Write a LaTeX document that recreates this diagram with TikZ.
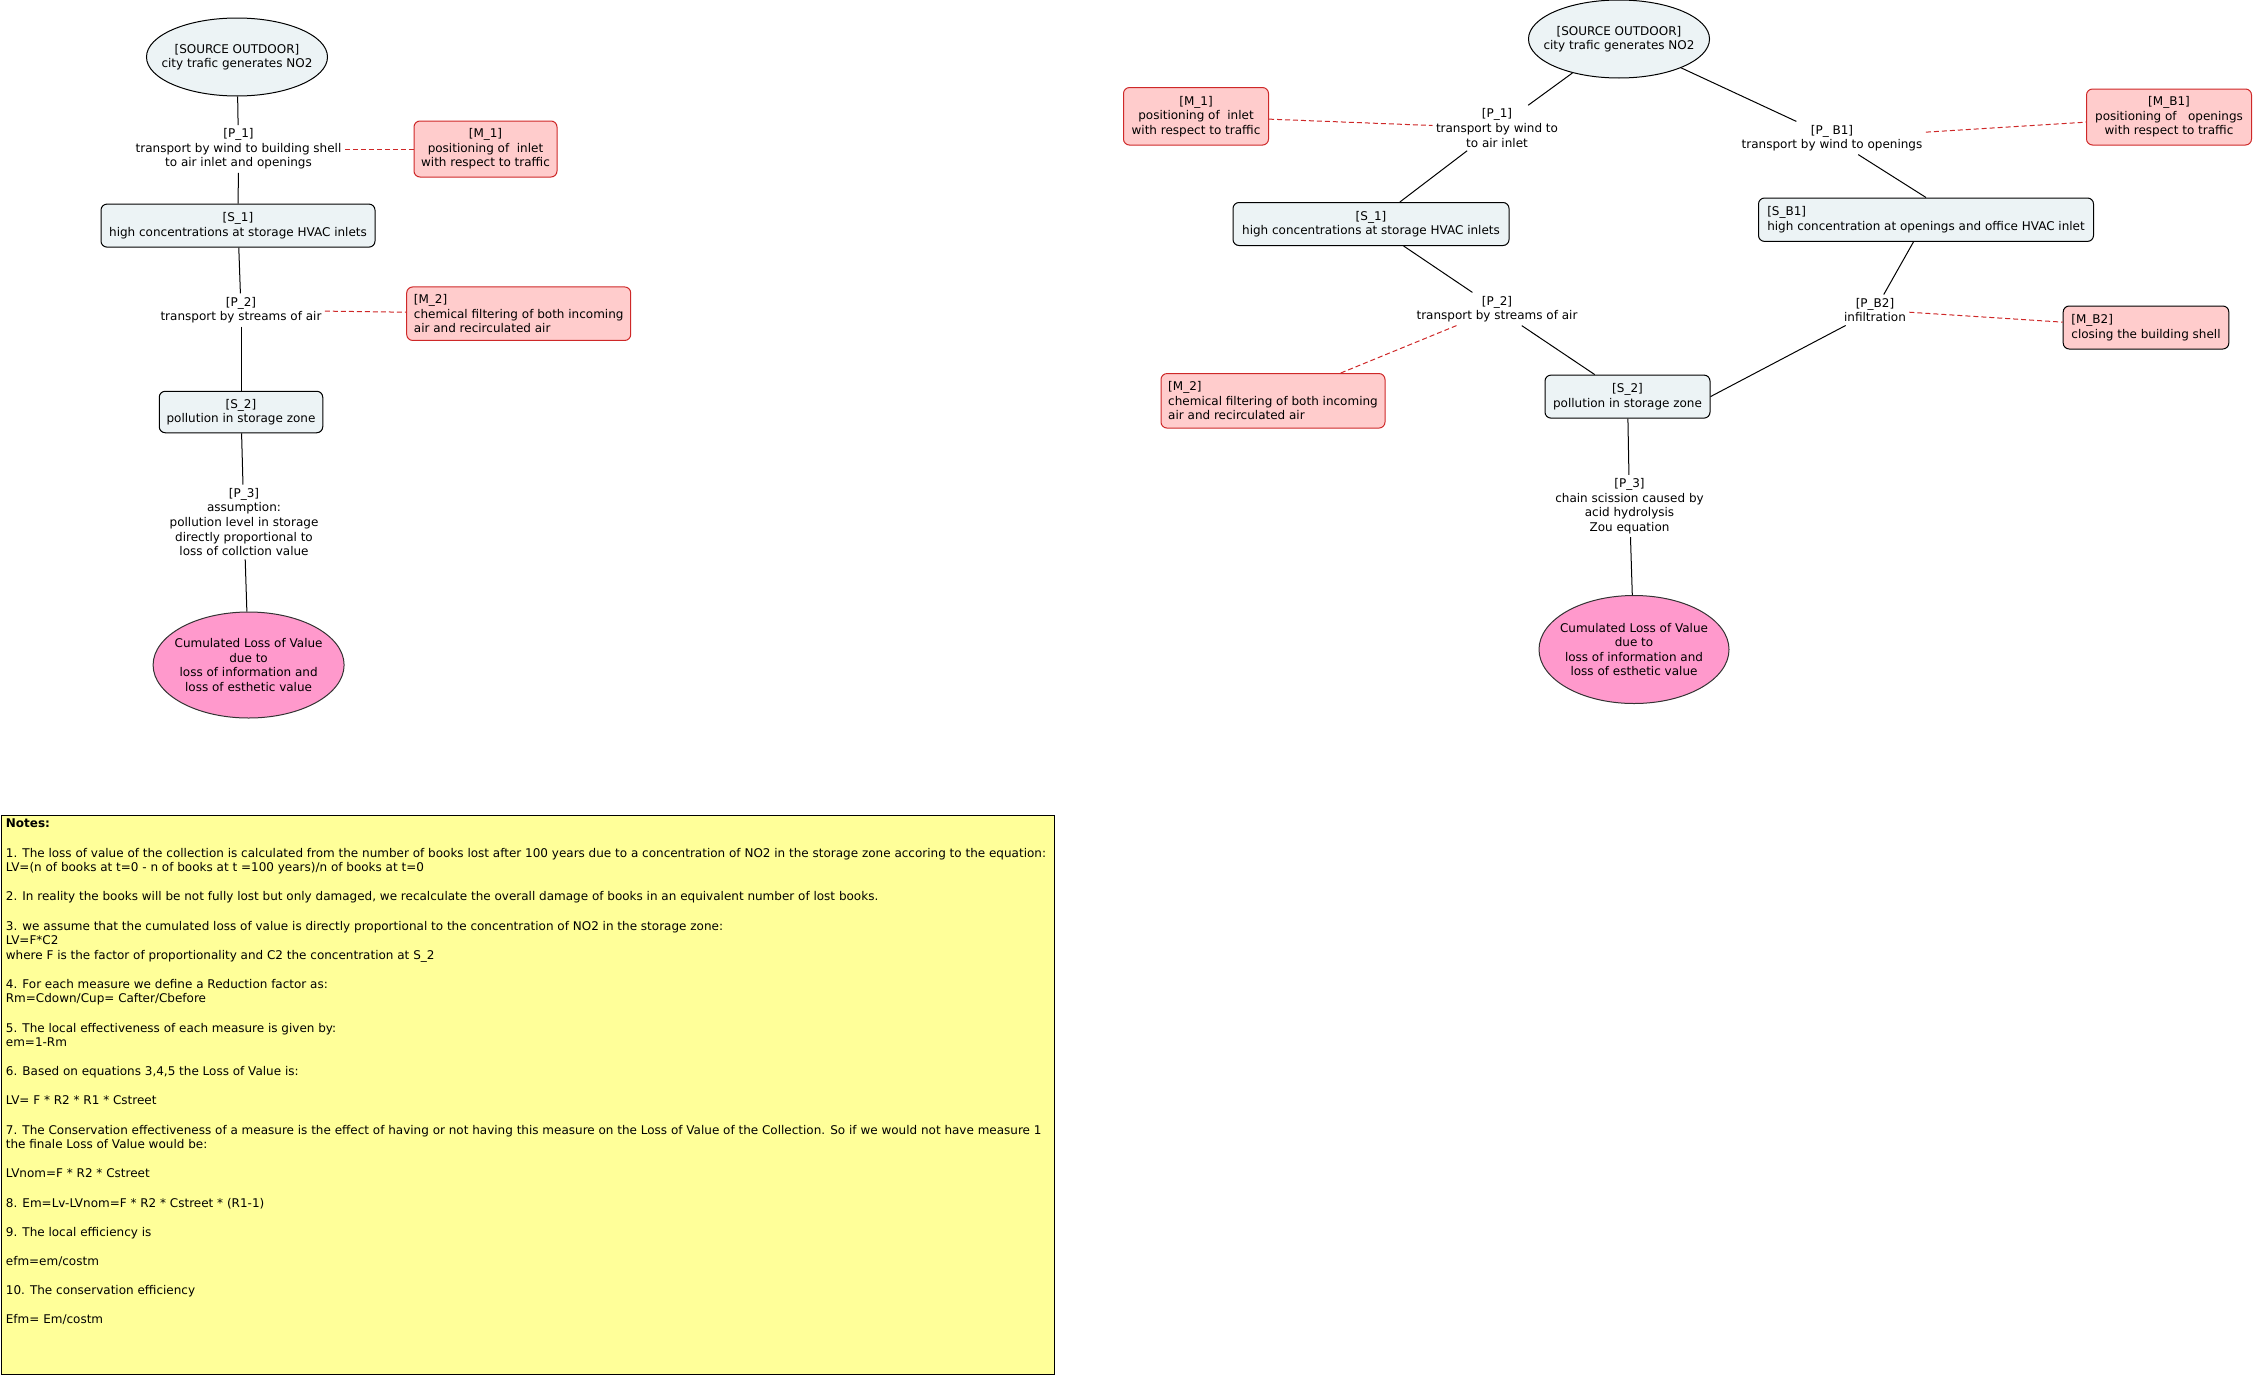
\documentclass[tikz,border=0pt]{standalone}
\usepackage{fontspec}
\setmainfont{DejaVu Sans}
\usetikzlibrary{shapes.geometric}
\definecolor{srcfill}{RGB}{236,243,245}
\definecolor{measfill}{RGB}{255,204,204}
\definecolor{measline}{RGB}{206,40,40}
\definecolor{lossfill}{RGB}{255,153,204}
\definecolor{notefill}{RGB}{255,255,153}
\begin{document}
\begin{tikzpicture}[x=1pt, y=-1pt, line width=1pt,
  every node/.style={font=\fontsize{12}{14.6}\selectfont},
  src/.style={ellipse, draw, fill=srcfill, minimum width=181pt, minimum height=78pt, inner xsep=-11.5pt, inner ysep=0pt, align=center},
  loss/.style={ellipse, draw=black!80, fill=lossfill, minimum width=191pt, minimum height=106pt, inner xsep=-7.5pt, inner ysep=0pt, align=center},
  state/.style={rectangle, rounded corners=6pt, draw, fill=srcfill, inner sep=2pt, align=center},
  meas/.style={rectangle, rounded corners=6pt, draw=measline, fill=measfill, inner sep=2pt, align=center},
  proc/.style={inner sep=3pt, align=center},
  mline/.style={draw=measline, dash pattern=on 5pt off 3pt}]
\useasboundingbox (0,0) rectangle (2253,1376);
% left chain
\node[src] (lsrc) at (237,57) {[SOURCE OUTDOOR]\\city trafic generates NO2};
\node[proc] (lp1) at (238.5,149) {[P\_1]\\transport by wind to building shell\\to air inlet and openings};
\node[meas, minimum width=143pt, minimum height=56pt] (lm1) at (485.5,149) {[M\_1]\\positioning of~ inlet\\with respect to traffic};
\node[state, minimum width=274pt, minimum height=43pt] (ls1) at (238,225.6) {[S\_1]\\high concentrations at storage HVAC inlets};
\node[proc] (lp2) at (241,310) {[P\_2]\\transport by streams of air};
\node[meas, align=left, minimum width=224pt, minimum height=53.5pt] (lm2) at (518.7,313.7) {[M\_2]\\chemical filtering of both incoming\\air and recirculated air};
\node[state, minimum width=163.5pt, minimum height=41.5pt] (ls2) at (241,412) {[S\_2]\\pollution in storage zone};
\node[proc] (lp3) at (244,522) {[P\_3]\\assumption:\\pollution level in storage\\directly proportional to\\loss of collction value};
\node[loss] (lloss) at (248.6,665) {Cumulated Loss of Value\\due to\\loss of information and\\loss of esthetic value};
\draw (lsrc) -- (lp1);
\draw (lp1) -- (ls1);
\draw (ls1) -- (lp2);
\draw (lp2) -- (ls2);
\draw (ls2) -- (lp3);
\draw (lp3) -- (lloss);
\draw[mline] (lp1) -- (lm1);
\draw[mline] (lp2) -- (lm2);
% right chain
\node[src] (rsrc) at (1619,39) {[SOURCE OUTDOOR]\\city trafic generates NO2};
\node[proc] (rp1) at (1497,128) {[P\_1]\\transport by wind to\\to air inlet};
\node[meas, minimum width=145pt, minimum height=57.5pt] (rm1) at (1196,116.3) {[M\_1]\\positioning of~ inlet\\with respect to traffic};
\node[state, minimum width=276pt, minimum height=43pt] (rs1) at (1371,224) {[S\_1]\\high concentrations at storage HVAC inlets};
\node[proc] (rp2) at (1497,309) {[P\_2]\\transport by streams of air};
\node[meas, align=left, minimum width=224pt, minimum height=54.5pt] (rm2) at (1273,400.8) {[M\_2]\\chemical filtering of both incoming\\air and recirculated air};
\node[state, minimum width=165pt, minimum height=43pt] (rs2) at (1627.5,396.6) {[S\_2]\\pollution in storage zone};
\node[proc] (rp3) at (1629.5,506) {[P\_3]\\chain scission caused by\\acid hydrolysis\\Zou equation};
\node[loss, minimum width=190pt, minimum height=108pt] (rloss) at (1634,649.5) {Cumulated Loss of Value\\due to\\loss of information and\\loss of esthetic value};
% openings branch
\node[proc] (rpb1) at (1832,138) {[P\_ B1]\\transport by wind to openings};
\node[meas, minimum width=165pt, minimum height=56pt] (rmb1) at (2169,117) {[M\_B1]\\positioning of~~ openings\\with respect to traffic};
\node[state, align=left, minimum width=335pt, minimum height=43.4pt] (rsb1) at (1926,219.7) {[S\_B1]\\high concentration at openings and office HVAC inlet};
\node[proc] (rpb2) at (1875,310) {[P\_B2]\\infiltration};
\node[meas, draw=black, align=left, minimum width=165.6pt, minimum height=43pt] (rmb2) at (2146,327.5) {[M\_B2]\\closing the building shell};
\draw (rsrc) -- (rp1);
\draw (rp1) -- (rs1);
\draw (rs1) -- (rp2);
\draw (rp2) -- (rs2);
\draw (rs2) -- (rp3);
\draw (rp3) -- (rloss);
\draw (rsrc) -- (rpb1);
\draw (rpb1) -- (rsb1.north);
\draw (rsb1) -- (rpb2);
\draw (rpb2) -- (rs2.east);
\draw[mline] (rm1) -- (rp1);
\draw[mline] (rp2) -- (rm2);
\draw[mline] (rpb1) -- (rmb1);
\draw[mline] (rpb2) -- (rmb2);
% notes
\node[draw, fill=notefill, anchor=north west, minimum width=1053pt, minimum height=559pt, inner sep=0pt] (notebox) at (1.4,814.7) {};
\node[anchor=north west, align=left, inner xsep=4pt, inner ysep=4pt, font=\fontsize{12}{14.58}\selectfont] (notes) at (notebox.north west) {\textbf{Notes:}\\[\baselineskip]
1. The loss of value of the collection is calculated from the number of books lost after 100 years due to a concentration of NO2 in the storage zone accoring to the equation:\\
LV=(n of books at t=0 - n of books at t =100 years)/n of books at t=0\\[\baselineskip]
2. In reality the books will be not fully lost but only damaged, we recalculate the overall damage of books in an equivalent number of lost books.\\[\baselineskip]
3. we assume that the cumulated loss of value is directly proportional to the concentration of NO2 in the storage zone:\\
LV=F*C2\\
where F is the factor of proportionality and C2 the concentration at S\_2\\[\baselineskip]
4. For each measure we define a Reduction factor as:\\
Rm=Cdown/Cup= Cafter/Cbefore\\[\baselineskip]
5. The local effectiveness of each measure is given by:\\
em=1-Rm\\[\baselineskip]
6. Based on equations 3,4,5 the Loss of Value is:\\[\baselineskip]
LV= F * R2 * R1 * Cstreet\\[\baselineskip]
7. The Conservation effectiveness of a measure is the effect of having or not having this measure on the Loss of Value of the Collection. So if we would not have measure 1\\
the finale Loss of Value would be:\\[\baselineskip]
LVnom=F * R2 * Cstreet\\[\baselineskip]
8. Em=Lv-LVnom=F * R2 * Cstreet * (R1-1)\\[\baselineskip]
9. The local efficiency is\\[\baselineskip]
efm=em/costm\\[\baselineskip]
10. The conservation efficiency\\[\baselineskip]
Efm= Em/costm};
\end{tikzpicture}
\end{document}
